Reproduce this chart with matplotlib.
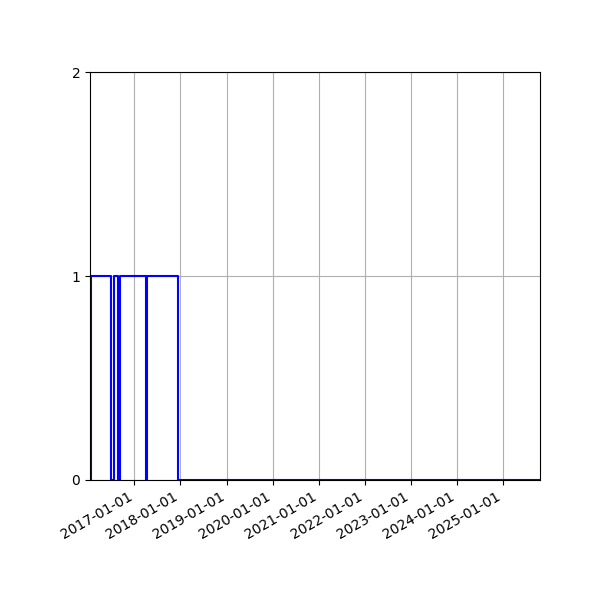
import matplotlib
matplotlib.use("Agg")
import matplotlib.pyplot as plt
import matplotlib.dates as mdates
import numpy as np
import pandas as pd

dates = pd.to_datetime([
    "2016-01-15", "2016-01-23", "2016-06-26", "2016-07-20", "2016-08-25",
    "2016-09-06", "2017-04-01", "2017-04-07", "2017-12-10", "2025-10-21",
])
values = [0, 1, 0, 1, 0, 1, 0, 1, 0, 0]
yticks = [0, 1, 2]

fig, ax = plt.subplots(figsize=(6, 6), dpi=100)
ax.plot(dates, values, drawstyle="steps-post", color="blue", linewidth=1.5)
ax.set_xlim(dates[0], dates[-1])
ax.set_ylim(0, 2)
ax.set_yticks(yticks)
ax.xaxis.set_major_locator(mdates.YearLocator())
ax.xaxis.set_major_formatter(mdates.DateFormatter("%Y-%m-%d"))
ax.grid(True)
fig.autofmt_xdate()
fig.subplots_adjust(left=0.15, right=0.9, top=0.88, bottom=0.2)
fig.savefig("out.png")
